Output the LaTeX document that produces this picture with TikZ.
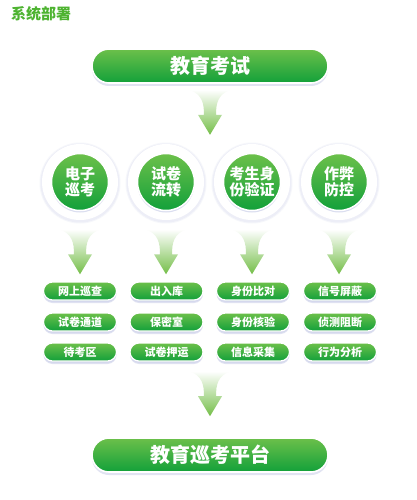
\documentclass[tikz,border=0pt]{standalone}
\usepackage{fontspec}
\newfontfamily\cjk{Noto Sans CJK SC}
\usetikzlibrary{shadows,calc}
\definecolor{gtop}{HTML}{6CC04A}
\definecolor{gbot}{HTML}{12A03A}
\definecolor{titlec}{HTML}{4DB330}
\definecolor{arrowg}{HTML}{74BE48}
\definecolor{shadowc}{HTML}{CDD1EA}
\definecolor{haloc}{HTML}{E8EAF5}
\tikzset{
  pillbase/.style={rounded corners, top color=gtop, bottom color=gbot, draw=white, line width=1.6pt,
    text=white, font=\cjk\bfseries, inner sep=0pt,
    drop shadow={shadow xshift=0pt, shadow yshift=-3pt, fill=shadowc, opacity=0.6}},
  bigpill/.style={pillbase, minimum width=236pt, minimum height=34pt, rounded corners=17pt, font=\cjk\bfseries\fontsize{20}{22}\selectfont},
  smallpill/.style={pillbase, minimum width=73pt, minimum height=18pt, rounded corners=9pt, line width=1.2pt, font=\cjk\bfseries\fontsize{11}{12}\selectfont,
    drop shadow={shadow xshift=0pt, shadow yshift=-2pt, fill=shadowc, opacity=0.6}},
  ball/.style={circle, minimum size=57pt, inner sep=0pt, top color=gtop, bottom color=gbot, draw=white, line width=1.5pt,
    text=white, align=center, font=\cjk\bfseries\fontsize{15}{16.5}\selectfont,
    drop shadow={shadow xshift=0pt, shadow yshift=-2pt, fill=shadowc, opacity=0.7}},
  funnel/.pic={
    \shade[top color=white, bottom color=arrowg, middle color=arrowg!50]
      (-20,0) .. controls (-8,5) and (-6,13) .. (-6,25) -- (-12,25) -- (0,45) -- (12,25) -- (6,25)
      .. controls (6,13) and (8,5) .. (20,0) -- cycle;
  }
}
\begin{document}
\begin{tikzpicture}[x=1pt,y=-1pt]
\useasboundingbox (0,0) rectangle (417,500);
\fill[white] (0,0) rectangle (417,500);
% title
\node[anchor=west, text=titlec, font=\cjk\bfseries\fontsize{15}{16}\selectfont, inner sep=0pt] (title) at (11,14) {系统部署};
% top pill
\node[bigpill] (top) at (210,66) {教育考试};
\pic at ($(top.south)+(0,6)$) {funnel};
% circles
\foreach \x/\n/\t in {80/c1/{电子\\巡考},166/c2/{试卷\\流转},252/c3/{考生身\\份验证},339/c4/{作弊\\防控}}{
  \fill[haloc!40] (\x,183) circle (40.5);
  \fill[haloc!80] (\x,183) circle (39.5);
  \fill[white] (\x,182) circle (38);
  \node[ball] (\n) at (\x,182) {\t};
  \pic at ($(\n.south)+(0,18)$) {funnel};
}
% small pills
\foreach \x/\c/\a/\b/\d in {80/1/网上巡查/试卷通道/待考区,166.5/2/出入库/保密室/试卷押运,253/3/身份比对/身份核验/信息采集,340/4/信号屏蔽/侦测阻断/行为分析}{
  \node[smallpill] (p\c a) at (\x,291) {\a};
  \node[smallpill] (p\c b) at (\x,322) {\b};
  \node[smallpill] (p\c c) at (\x,352) {\d};
}
% bottom
\node[bigpill] (bot) at (210,455) {教育巡考平台};
\pic at ($(bot.north)+(0,-66)$) {funnel};
\end{tikzpicture}
\end{document}
